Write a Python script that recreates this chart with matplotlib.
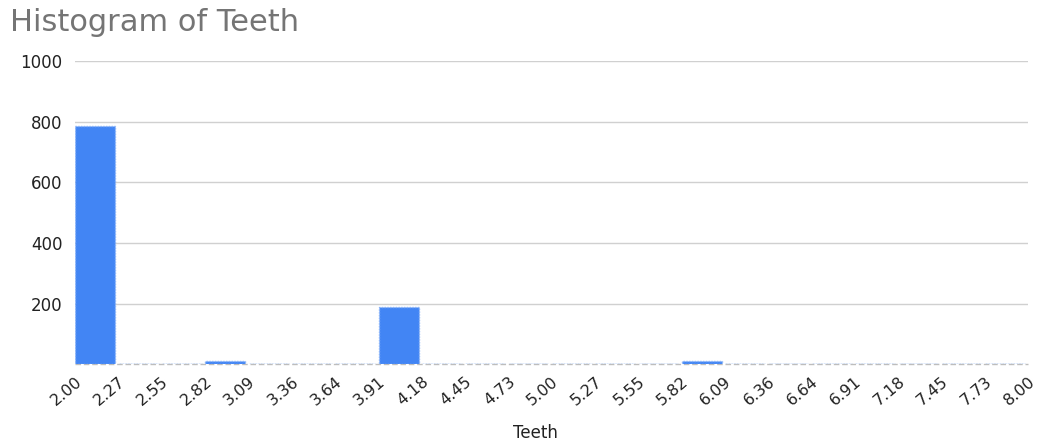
import numpy as np
import matplotlib
matplotlib.use("Agg")
import matplotlib.pyplot as plt
from matplotlib.transforms import ScaledTranslation

# Histogram bins for the Teeth column: 22 equal bins from 2.00 to 8.00
bin_start = 2.0
bin_end = 8.0
n_bins = 22
counts = [787, 0, 0, 12, 0, 0, 0, 188, 0, 0, 0, 0, 0, 0, 10, 0, 0, 0, 0, 0, 0, 0]
tick_labels = ["2.00", "2.27", "2.55", "2.82", "3.09", "3.36", "3.64", "3.91",
               "4.18", "4.45", "4.73", "5.00", "5.27", "5.55", "5.82", "6.09",
               "6.36", "6.64", "6.91", "7.18", "7.45", "7.73", "8.00"]
y_ticks = [200, 400, 600, 800, 1000]

edges = np.linspace(bin_start, bin_end, n_bins + 1)
bw = edges[1] - edges[0]

plt.rcParams["font.family"] = ["DejaVu Sans"]

fig = plt.figure(figsize=(10.42, 4.43), dpi=100)
ax = fig.add_axes([0.072, 0.178, 0.9146, 0.684])

bar_color = "#4285F4"
ax.bar(edges[:-1] + 0.01 * bw, counts, width=0.92 * bw, align="edge",
       color=bar_color, edgecolor="#8ab4f8", linewidth=1.0, linestyle=(0, (1, 1)),
       zorder=3)

ax.set_xlim(bin_start, bin_end)
ax.set_ylim(0, 1000)

# gridlines and dashed baseline
ax.set_yticks(y_ticks)
ax.yaxis.grid(True, color="#d0d0d0", linewidth=1.0, zorder=0)
ax.axhline(0, color="#bdbdbd", linewidth=1.0, linestyle=(0, (4, 2)),
           zorder=2, clip_on=False)

for s in ax.spines.values():
    s.set_visible(False)

ax.set_xticks(edges)
ax.set_xticklabels(tick_labels, rotation=40, ha="right", va="top",
                   rotation_mode="anchor", fontsize=11.5, color="#222222")
shift = ScaledTranslation(7 / 100, 0, fig.dpi_scale_trans)
for lab in ax.get_xticklabels():
    lab.set_transform(lab.get_transform() + shift)
ax.tick_params(axis="x", length=0, pad=7)
ax.tick_params(axis="y", length=0, pad=9, labelsize=12, labelcolor="#222222")

ax.set_xlabel("Teeth", fontsize=12, color="#222222")
ax.xaxis.label.set_verticalalignment("center")
ax.xaxis.set_label_coords(0.483, -0.228)

fig.text(0.0096, 0.930, "Histogram of Teeth", fontsize=22, color="#757575",
         ha="left", va="baseline")

fig.savefig("out.png", dpi=100, facecolor="white")
